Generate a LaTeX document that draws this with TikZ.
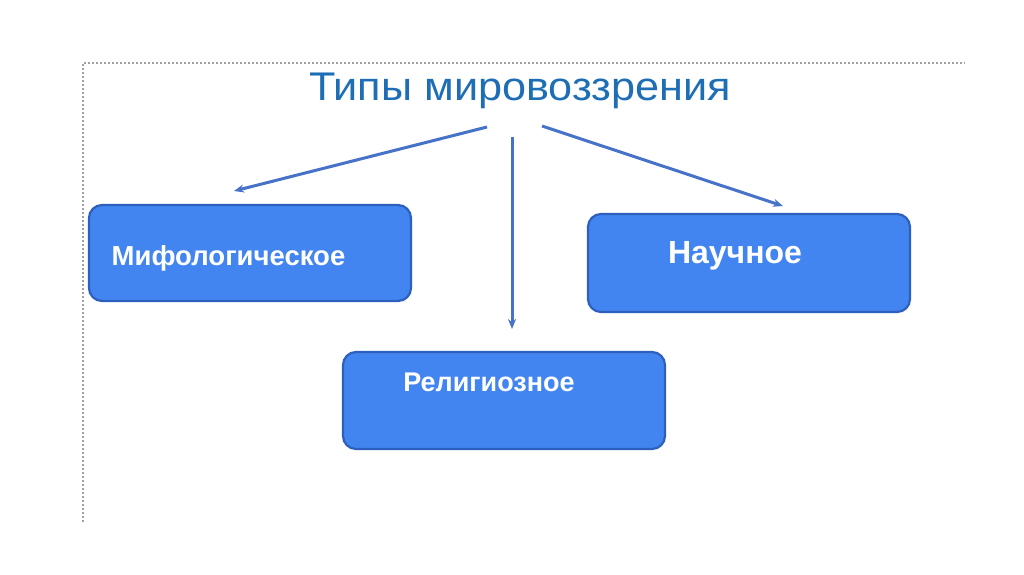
\documentclass[tikz,border=0pt]{standalone}
\usepackage{fontspec}
\setmainfont{Liberation Sans}
\usetikzlibrary{arrows.meta}
\definecolor{titleblue}{RGB}{30,110,182}
\definecolor{boxfill}{RGB}{66,133,240}
\definecolor{boxedge}{RGB}{45,95,190}
\definecolor{arrowblue}{RGB}{70,115,200}
\definecolor{frame}{RGB}{160,160,160}
\tikzset{
  box/.style={draw=boxedge, line width=2.2pt, fill=boxfill, rounded corners=13pt},
  boxtext/.style={text=white, inner sep=0pt, anchor=base},
  conn/.style={draw=arrowblue, line width=3pt, -{Stealth[length=10pt,width=8pt]}},
}
\begin{document}
\begin{tikzpicture}[x=1pt,y=-1pt]
\useasboundingbox (0,0) rectangle (1024,574);
\fill[white] (0,0) rectangle (1024,574);
% frame
\draw[frame, dash pattern=on 2pt off 2pt, line width=1.2pt] (83,522) -- (83,63) -- (965,63);
% title
\node[text=titleblue, font=\fontsize{40}{46}\selectfont, inner sep=0pt, anchor=base, xscale=1.08] (title) at (520,100) {Типы мировоззрения};
% boxes
\draw[box] (89,205) rectangle (411,301);
\node[boxtext, font=\bfseries\fontsize{27.5}{32}\selectfont] (myth) at (228.5,265) {Мифологическое};
\draw[box] (588,214) rectangle (910,312);
\node[boxtext, font=\bfseries\fontsize{32}{36}\selectfont] (sci) at (735,263) {Научное};
\draw[box] (343,352) rectangle (665,449);
\node[boxtext, font=\bfseries\fontsize{27}{32}\selectfont] (rel) at (489,391) {Религиозное};
% connectors
\coordinate (s1) at (487,127);
\coordinate (e1) at (234,191);
\coordinate (s2) at (512,137);
\coordinate (e2) at (512,329);
\coordinate (s3) at (542,126);
\coordinate (e3) at (783,206);
\draw[conn] (s1) -- (e1);
\draw[conn] (s2) -- (e2);
\draw[conn] (s3) -- (e3);
\end{tikzpicture}
\end{document}
